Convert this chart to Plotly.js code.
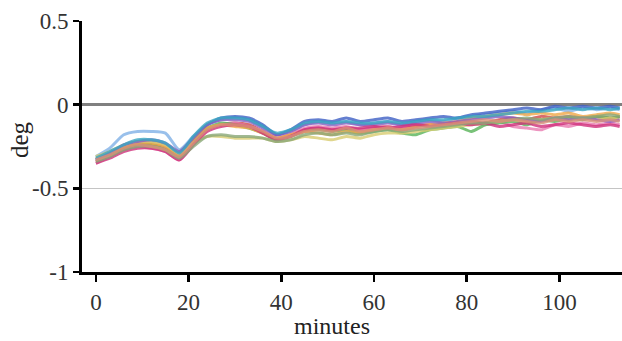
<!DOCTYPE html>
<html>
<head>
<meta charset="utf-8">
<script src="https://cdn.plot.ly/plotly-3.0.1.min.js"></script>
<style>html,body{margin:0;padding:0;background:#fff;}#chart{width:622px;height:341px;}</style>
</head>
<body>
<div id="chart"></div>
<script>
// minutes (sampled about every 3 minutes)
var minutes = [0,3,6,9,12,15,18,21,24,27,30,33,36,39,42,45,48,51,54,57,60,63,66,69,72,75,78,81,84,87,90,93,96,99,102,105,108,111,113];

var xTickVals = [0,20,40,60,80,100];
var yTickVals = [0.5,0,-0.5,-1];
var yTickText = ['0.5','0','-0.5','-1'];

// deg for each run
var run1 = [-0.31,-0.26,-0.18,-0.16,-0.16,-0.17,-0.27,-0.19,-0.12,-0.09,-0.08,-0.09,-0.13,-0.18,-0.16,-0.12,-0.10,-0.11,-0.10,-0.12,-0.11,-0.10,-0.12,-0.10,-0.09,-0.10,-0.08,-0.07,-0.06,-0.05,-0.04,-0.05,-0.03,-0.02,-0.04,-0.02,-0.03,-0.02,-0.03];
var run2 = [-0.33,-0.29,-0.25,-0.22,-0.22,-0.24,-0.29,-0.20,-0.12,-0.08,-0.07,-0.08,-0.12,-0.18,-0.15,-0.10,-0.09,-0.10,-0.08,-0.10,-0.09,-0.08,-0.10,-0.09,-0.08,-0.07,-0.08,-0.06,-0.05,-0.04,-0.03,-0.02,-0.03,-0.01,-0.02,-0.01,-0.02,-0.01,-0.02];
var run3 = [-0.34,-0.30,-0.26,-0.24,-0.24,-0.26,-0.31,-0.23,-0.15,-0.12,-0.11,-0.12,-0.16,-0.20,-0.18,-0.15,-0.14,-0.15,-0.14,-0.15,-0.14,-0.13,-0.15,-0.13,-0.12,-0.13,-0.11,-0.10,-0.11,-0.09,-0.08,-0.09,-0.07,-0.08,-0.07,-0.08,-0.07,-0.08,-0.07];
var run4 = [-0.35,-0.31,-0.27,-0.25,-0.26,-0.28,-0.33,-0.24,-0.15,-0.12,-0.11,-0.13,-0.16,-0.21,-0.18,-0.14,-0.13,-0.14,-0.13,-0.15,-0.14,-0.13,-0.14,-0.12,-0.12,-0.13,-0.12,-0.11,-0.12,-0.10,-0.13,-0.14,-0.15,-0.12,-0.13,-0.11,-0.12,-0.11,-0.12];
var run5 = [-0.33,-0.30,-0.26,-0.24,-0.24,-0.27,-0.31,-0.22,-0.14,-0.11,-0.12,-0.14,-0.17,-0.21,-0.19,-0.16,-0.15,-0.16,-0.15,-0.17,-0.16,-0.15,-0.17,-0.18,-0.15,-0.14,-0.13,-0.16,-0.12,-0.11,-0.10,-0.12,-0.09,-0.10,-0.08,-0.09,-0.07,-0.08,-0.07];
var run6 = [-0.32,-0.29,-0.25,-0.23,-0.23,-0.25,-0.30,-0.21,-0.14,-0.12,-0.13,-0.14,-0.17,-0.20,-0.18,-0.16,-0.17,-0.18,-0.16,-0.17,-0.15,-0.14,-0.15,-0.13,-0.12,-0.11,-0.10,-0.08,-0.07,-0.06,-0.05,-0.06,-0.05,-0.06,-0.05,-0.07,-0.06,-0.05,-0.06];
var run7 = [-0.31,-0.28,-0.24,-0.22,-0.22,-0.24,-0.29,-0.23,-0.19,-0.19,-0.20,-0.20,-0.20,-0.22,-0.21,-0.19,-0.20,-0.21,-0.19,-0.20,-0.18,-0.17,-0.17,-0.16,-0.15,-0.14,-0.13,-0.12,-0.11,-0.10,-0.09,-0.10,-0.09,-0.08,-0.09,-0.08,-0.09,-0.08,-0.09];
var run8 = [-0.33,-0.29,-0.24,-0.22,-0.21,-0.23,-0.28,-0.20,-0.12,-0.09,-0.09,-0.10,-0.14,-0.18,-0.16,-0.12,-0.11,-0.12,-0.11,-0.12,-0.12,-0.11,-0.12,-0.11,-0.10,-0.11,-0.10,-0.09,-0.08,-0.07,-0.08,-0.09,-0.10,-0.08,-0.09,-0.08,-0.09,-0.10,-0.09];
var run9 = [-0.32,-0.28,-0.24,-0.21,-0.21,-0.23,-0.29,-0.19,-0.11,-0.08,-0.08,-0.09,-0.13,-0.17,-0.15,-0.11,-0.10,-0.11,-0.10,-0.11,-0.11,-0.10,-0.11,-0.10,-0.09,-0.09,-0.08,-0.07,-0.07,-0.06,-0.05,-0.04,-0.04,-0.03,-0.02,-0.03,-0.02,-0.03,-0.02];
var run10 = [-0.35,-0.32,-0.28,-0.26,-0.26,-0.28,-0.33,-0.24,-0.16,-0.13,-0.12,-0.13,-0.17,-0.21,-0.19,-0.15,-0.14,-0.15,-0.14,-0.14,-0.13,-0.14,-0.13,-0.12,-0.13,-0.12,-0.11,-0.12,-0.11,-0.13,-0.12,-0.11,-0.13,-0.12,-0.11,-0.12,-0.13,-0.12,-0.13];
var run11 = [-0.34,-0.31,-0.27,-0.25,-0.25,-0.27,-0.32,-0.25,-0.19,-0.18,-0.19,-0.19,-0.20,-0.22,-0.21,-0.18,-0.17,-0.18,-0.17,-0.18,-0.16,-0.15,-0.16,-0.15,-0.14,-0.13,-0.12,-0.11,-0.11,-0.10,-0.09,-0.08,-0.09,-0.08,-0.07,-0.08,-0.07,-0.06,-0.07];
var run12 = [-0.33,-0.30,-0.26,-0.24,-0.25,-0.27,-0.31,-0.23,-0.15,-0.12,-0.12,-0.13,-0.16,-0.20,-0.19,-0.16,-0.15,-0.16,-0.14,-0.16,-0.15,-0.14,-0.15,-0.14,-0.13,-0.12,-0.11,-0.10,-0.09,-0.10,-0.09,-0.10,-0.11,-0.09,-0.10,-0.09,-0.10,-0.09,-0.10];

var runs = [run1,run2,run3,run4,run5,run6,run7,run8,run9,run10,run11,run12];
var colors = ['#7fb0e6','#3d5fc4','#d04848','#e87ab0','#58b358','#f0a848','#d8cc70','#8a5cc0','#3aa6c0','#d0307a','#8aa878','#d99078'];

var traces = runs.map(function(r, i){
  return {x: minutes, y: r, type: 'scatter', mode: 'lines',
    line: {color: colors[i], width: 3, shape: 'spline', smoothing: 0.6}, opacity: 0.8, showlegend: false, hoverinfo: 'skip'};
});

var serif = '"Liberation Serif", "Times New Roman", serif';
var layout = {
  width: 622, height: 341,
  margin: {l: 82, r: 0, t: 21, b: 69},
  paper_bgcolor: '#fff', plot_bgcolor: '#fff',
  font: {family: serif, size: 23, color: '#333'},
  showlegend: false,
  xaxis: {
    range: [-3, 113.5], tickvals: xTickVals, ticks: 'outside', ticklen: 7, tickwidth: 2.5, tickcolor: '#000',
    showline: true, linecolor: '#000', linewidth: 3, showgrid: false, zeroline: false,
    tickfont: {family: serif, size: 23, color: '#333'}
  },
  yaxis: {
    range: [-1, 0.5], tickvals: yTickVals, ticktext: yTickText, ticks: 'outside', ticklen: 6, tickwidth: 2.5, tickcolor: '#000',
    showline: true, linecolor: '#000', linewidth: 3, showgrid: true, gridcolor: '#c4c4c4', gridwidth: 1,
    zeroline: true, zerolinecolor: '#808080', zerolinewidth: 2.5,
    tickfont: {family: serif, size: 23, color: '#333'}
  },
  annotations: [
    {text: 'minutes', xref: 'x', yref: 'paper', x: 51, y: 0, yanchor: 'bottom', yshift: -69, showarrow: false,
     font: {family: serif, size: 24, color: '#222'}},
    {text: 'deg', xref: 'paper', yref: 'paper', x: -0.1148, y: 0.526, xanchor: 'center', yanchor: 'middle', textangle: -90, showarrow: false,
     font: {family: serif, size: 25, color: '#222'}}
  ]
};

Plotly.newPlot('chart', traces, layout, {staticPlot: true, displayModeBar: false});
</script>
</body>
</html>
